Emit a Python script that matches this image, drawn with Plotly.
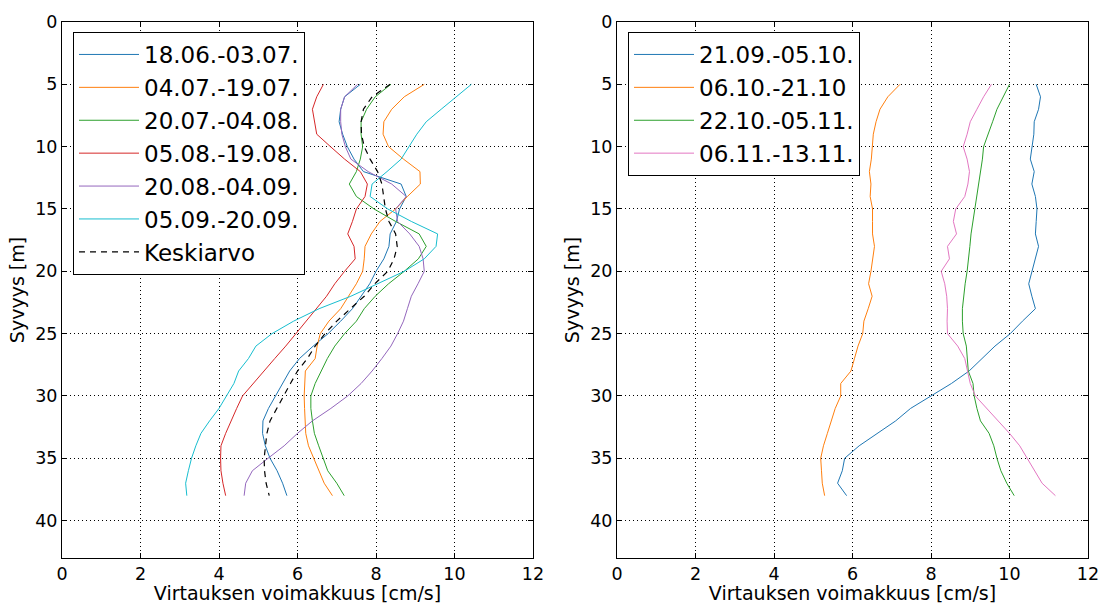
import plotly.graph_objects as go

depth = list(range(5, 39))

# Left panel series (cm/s)
s_1806_0307 = [7.6, 7.2, 7.1, 7.06, 7.15, 7.27, 7.44, 7.68, 8.64, 8.77, 8.6, 8.52, 8.36, 8.33, 8.2, 8.0, 7.84,
               7.62, 7.4, 7.1, 6.78, 6.4, 6.05, 5.8, 5.62, 5.44, 5.26, 5.12, 5.11, 5.18, 5.3, 5.48, 5.62, 5.73]
s_0407_1907 = [9.23, 8.72, 8.4, 8.2, 8.18, 8.32, 8.7, 9.12, 9.13, 8.8, 8.5, 8.1, 7.88, 7.72, 7.7, 7.66, 7.5,
               7.3, 7.1, 6.8, 6.58, 6.5, 6.45, 6.2, 6.18, 6.17, 6.18, 6.2, 6.21, 6.28, 6.42, 6.55, 6.68, 6.89]
s_2007_0408 = [8.38, 7.98, 7.76, 7.62, 7.62, 7.66, 7.6, 7.5, 7.32, 7.5, 7.95, 8.5, 9.1, 9.28, 9.08, 8.72, 8.32,
               7.98, 7.7, 7.5, 7.2, 6.95, 6.76, 6.6, 6.45, 6.34, 6.34, 6.38, 6.43, 6.54, 6.65, 6.77, 7.0, 7.19]
s_0508_1908 = [6.66, 6.49, 6.38, 6.43, 6.49, 6.84, 7.2, 7.6, 7.78, 7.72, 7.5, 7.4, 7.28, 7.44, 7.47, 7.2, 6.95,
               6.74, 6.48, 6.22, 5.98, 5.7, 5.42, 5.15, 4.88, 4.6, 4.45, 4.3, 4.17, 4.05, 4.04, 4.05, 4.1, 4.17]
s_2008_0409 = [7.53, 7.2, 7.1, 7.1, 7.13, 7.22, 7.36, 7.8, 8.4, 8.77, 8.5, 8.55, 8.86, 9.1, 9.2, 9.23, 9.07,
               8.9, 8.8, 8.7, 8.55, 8.38, 8.15, 7.9, 7.62, 7.28, 6.85, 6.38, 6.0, 5.66, 5.25, 4.85, 4.68, 4.64]
s_0509_2009 = [10.43, 10.03, 9.66, 9.28, 9.04, 8.84, 8.64, 8.28, 7.9, 7.85, 8.3, 8.9, 9.57, 9.53, 9.23, 8.72, 8.04,
               7.36, 6.55, 5.9, 5.35, 4.94, 4.75, 4.5, 4.38, 4.2, 4.0, 3.76, 3.54, 3.41, 3.3, 3.22, 3.15, 3.18]
keskiarvo = [8.36, 7.9, 7.68, 7.62, 7.63, 7.7, 7.85, 8.04, 8.15, 8.2, 8.24, 8.33, 8.5, 8.54, 8.46, 8.3, 7.97,
             7.7, 7.35, 7.0, 6.7, 6.45, 6.25, 6.0, 5.82, 5.64, 5.48, 5.3, 5.22, 5.18, 5.15, 5.16, 5.2, 5.28]

# Right panel series (cm/s)
s_2109_0510 = [10.68, 10.79, 10.74, 10.63, 10.62, 10.57, 10.53, 10.63, 10.57, 10.66, 10.7, 10.68, 10.66, 10.74,
               10.66, 10.57, 10.49, 10.57, 10.66, 10.33, 10.02, 9.63, 9.3, 8.97, 8.52, 8.0, 7.48, 7.1, 6.64,
               6.17, 5.8, 5.74, 5.62, 5.85]
s_0610_2110 = [7.21, 6.9, 6.7, 6.6, 6.53, 6.5, 6.48, 6.43, 6.47, 6.45, 6.51, 6.51, 6.51, 6.56, 6.52, 6.47, 6.41,
               6.5, 6.4, 6.29, 6.26, 6.14, 6.05, 5.96, 5.7, 5.7, 5.56, 5.45, 5.36, 5.26, 5.19, 5.21, 5.23, 5.29]
s_2210_0511 = [10.0, 9.85, 9.68, 9.57, 9.45, 9.34, 9.31, 9.26, 9.22, 9.17, 9.12, 9.07, 9.02, 8.99, 8.96, 8.92,
               8.87, 8.83, 8.8, 8.8, 8.82, 8.9, 8.92, 8.95, 9.07, 9.1, 9.17, 9.26, 9.48, 9.6, 9.68, 9.78, 9.93, 10.12]
s_0611_1311 = [9.54, 9.34, 9.17, 9.0, 8.92, 8.82, 8.92, 8.98, 8.94, 8.86, 8.63, 8.57, 8.65, 8.42, 8.47, 8.26,
               8.35, 8.4, 8.42, 8.41, 8.42, 8.68, 8.86, 8.93, 9.0, 9.13, 9.42, 9.69, 10.0, 10.26, 10.45, 10.64,
               10.83, 11.17]

left_names = ["18.06.-03.07.", "04.07.-19.07.", "20.07.-04.08.", "05.08.-19.08.", "20.08.-04.09.", "05.09.-20.09."]
left_series = [s_1806_0307, s_0407_1907, s_2007_0408, s_0508_1908, s_2008_0409, s_0509_2009]
left_colors = ["#1f77b4", "#ff7f0e", "#2ca02c", "#d62728", "#9467bd", "#17becf"]

right_names = ["21.09.-05.10.", "06.10.-21.10", "22.10.-05.11.", "06.11.-13.11."]
right_series = [s_2109_0510, s_0610_2110, s_2210_0511, s_0611_1311]
right_colors = ["#1f77b4", "#ff7f0e", "#2ca02c", "#e377c2"]

xticks = [0, 2, 4, 6, 8, 10, 12]
yticks = [0, 5, 10, 15, 20, 25, 30, 35, 40]

FONT = "DejaVu Sans"
fig = go.Figure()

for name, vals, col in zip(left_names, left_series, left_colors):
    fig.add_trace(go.Scatter(x=vals, y=depth, mode="lines", name=name,
                             line=dict(color=col, width=1), xaxis="x", yaxis="y", legend="legend"))
fig.add_trace(go.Scatter(x=keskiarvo, y=depth, mode="lines", name="Keskiarvo",
                         line=dict(color="black", width=1.2, dash="6px,5px"), xaxis="x", yaxis="y",
                         legend="legend"))

for name, vals, col in zip(right_names, right_series, right_colors):
    fig.add_trace(go.Scatter(x=vals, y=depth, mode="lines", name=name,
                             line=dict(color=col, width=1), xaxis="x2", yaxis="y2", legend="legend2"))

W, H = 1100, 604


def xdom(a, b):
    return [a / W, b / W]


def ydom(top, bottom):
    return [1 - bottom / H, 1 - top / H]


axis_common = dict(
    showline=True, linecolor="black", linewidth=1, mirror="allticks",
    ticks="inside", ticklen=5, tickcolor="black", tickwidth=1,
    showgrid=True, gridcolor="black", gridwidth=1, griddash="1px,3px",
    zeroline=False, tickfont=dict(family=FONT, size=17.5, color="black"),
    automargin=False,
)

xtitle = dict(text="Virtauksen voimakkuus [cm/s]", font=dict(family=FONT, size=19, color="black"), standoff=3)
ytitle = dict(text="Syvyys [m]", font=dict(family=FONT, size=19, color="black"), standoff=5)

legend_common = dict(xanchor="left", yanchor="top", bgcolor="white",
                     bordercolor="black", borderwidth=1, font=dict(family=FONT, size=23, color="black"),
                     itemwidth=60, tracegroupgap=0)

fig.update_layout(
    width=W, height=H,
    margin=dict(l=0, r=0, t=0, b=0, autoexpand=False),
    paper_bgcolor="white", plot_bgcolor="white",
    font=dict(family=FONT, color="black"),
    xaxis=dict(domain=xdom(62, 533), range=[0, 12], tickvals=xticks, anchor="y", title=xtitle, **axis_common),
    yaxis=dict(domain=ydom(22, 558), range=[43, 0], tickvals=yticks, anchor="x", title=ytitle, **axis_common),
    xaxis2=dict(domain=xdom(617, 1088), range=[0, 12], tickvals=xticks, anchor="y2", title=xtitle,
                **axis_common),
    yaxis2=dict(domain=ydom(22, 558), range=[43, 0], tickvals=yticks, anchor="x2", title=ytitle,
                **axis_common),
    legend=dict(x=73 / W, y=1 - 32 / H, **legend_common),
    legend2=dict(x=628 / W, y=1 - 32 / H, **legend_common),
    showlegend=True,
)

fig.write_html("out.html")
